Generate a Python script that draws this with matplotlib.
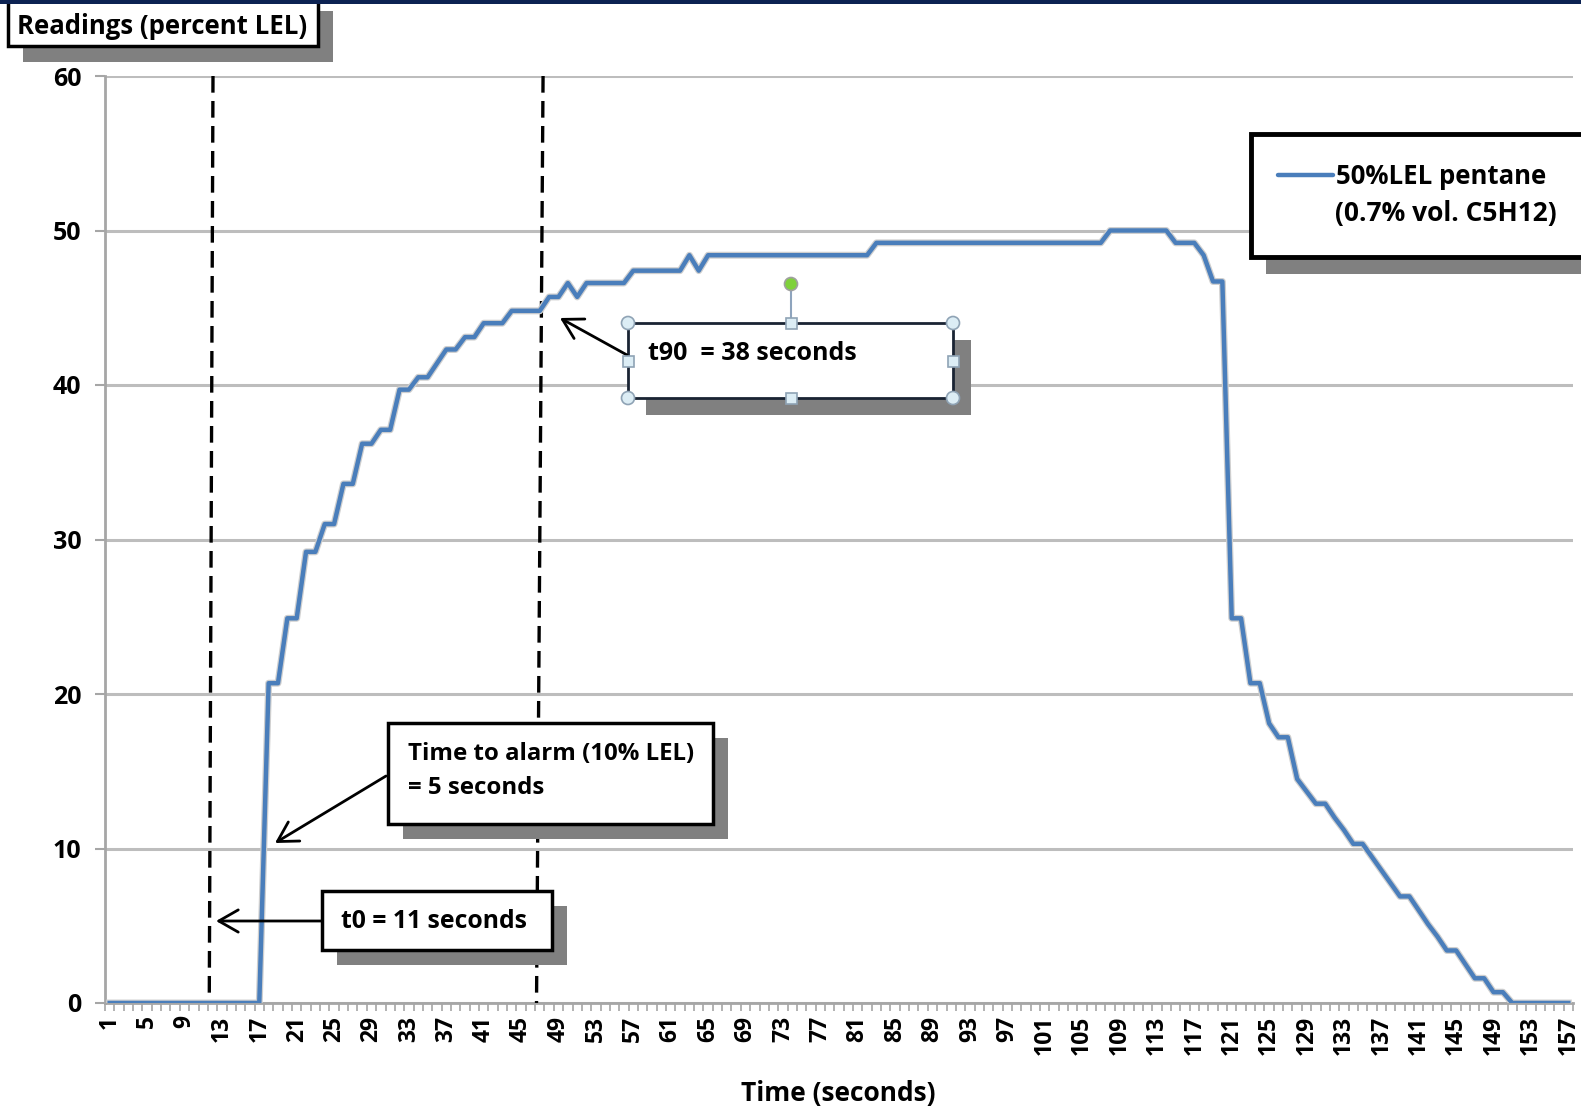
import matplotlib
matplotlib.use("Agg")
import matplotlib.pyplot as plt
import matplotlib.patheffects as pe
from matplotlib.patches import Rectangle, Circle, FancyArrowPatch

plt.rcParams['font.family'] = ['Open Sans', 'DejaVu Sans']
plt.rcParams['font.weight'] = 'bold'

# ---------------- data ----------------
seconds = list(range(1, 158))  # category axis 1..157
readings = [
    0, 0, 0, 0, 0, 0, 0, 0, 0, 0, 0, 0, 0, 0, 0, 0, 0,
    20.7, 20.7, 24.9, 24.9, 29.2, 29.2, 31.0, 31.0, 33.6, 33.6,
    36.2, 36.2, 37.1, 37.1, 39.7, 39.7, 40.5, 40.5, 41.4, 42.3,
    42.3, 43.1, 43.1, 44.0, 44.0, 44.0, 44.8, 44.8, 44.8, 44.8,
    45.7, 45.7, 46.6, 45.7, 46.6, 46.6, 46.6, 46.6, 46.6, 47.4,
    47.4, 47.4, 47.4, 47.4, 47.4, 48.4, 47.4, 48.4, 48.4, 48.4,
    48.4, 48.4, 48.4, 48.4, 48.4, 48.4, 48.4, 48.4, 48.4, 48.4,
    48.4, 48.4, 48.4, 48.4, 48.4, 49.2, 49.2, 49.2, 49.2, 49.2,
    49.2, 49.2, 49.2, 49.2, 49.2, 49.2, 49.2, 49.2, 49.2, 49.2,
    49.2, 49.2, 49.2, 49.2, 49.2, 49.2, 49.2, 49.2, 49.2, 49.2,
    50.0, 50.0, 50.0, 50.0, 50.0, 50.0, 50.0, 49.2, 49.2, 49.2,
    48.4, 46.7, 46.7, 24.9, 24.9, 20.7, 20.7, 18.1, 17.2, 17.2,
    14.5, 13.7, 12.9, 12.9, 12.0, 11.2, 10.3, 10.3, 9.45, 8.6,
    7.75, 6.9, 6.9, 6.0, 5.1, 4.3, 3.4, 3.4, 2.5, 1.6,
    1.6, 0.7, 0.7, 0, 0, 0, 0, 0, 0, 0,
]
series_label = ["50%LEL pentane", "(0.7% vol. C5H12)"]
y_ticks = [0, 10, 20, 30, 40, 50, 60]
x_tick_labels = [str(s) for s in seconds[::4]]
x_tick_pos = seconds[::4]

# marker lines (top, bottom) positions in category units
t0_line = (12.05, 11.65)
t90_line = (47.35, 46.65)

W, H = 1581, 1111
fig = plt.figure(figsize=(W / 100, H / 100), dpi=100)
fig.patch.set_facecolor('white')

left, right, top, bottom = 105, 1573, 76, 1003
ax = fig.add_axes([left / W, 1 - bottom / H, (right - left) / W, (bottom - top) / H])

BLUE = '#4a7ebb'
GRID = '#bdbdbd'

ax.plot(seconds, readings, color=BLUE, lw=3.2, solid_joinstyle='round', zorder=4,
        path_effects=[pe.Stroke(linewidth=5.0, foreground='#cfcfcf'), pe.Normal()])

ax.set_xlim(0.5, 157.5)
ax.set_ylim(0, 60)
ax.set_yticks(y_ticks)
ax.set_yticklabels([str(v) for v in y_ticks], fontsize=18, fontweight='bold')
ax.yaxis.grid(True, color=GRID, lw=2.2)
ax.set_axisbelow(True)
ax.tick_params(axis='y', direction='out', length=7, width=1.5, color='#a6a6a6', pad=10)

ax.set_xticks(x_tick_pos)
ax.set_xticklabels(x_tick_labels, rotation=90, fontsize=16.5, fontweight='bold')
ax.set_xticks([s - 0.5 for s in seconds] + [seconds[-1] + 0.5], minor=True)
ax.tick_params(axis='x', which='major', length=0, pad=9)
ax.tick_params(axis='x', which='minor', direction='out', length=6, width=1.2, color='#a6a6a6')

for s in ['top', 'right']:
    ax.spines[s].set_visible(False)
for s in ['left', 'bottom']:
    ax.spines[s].set_color('#a6a6a6')
    ax.spines[s].set_linewidth(2)

# dashed marker lines
for (xt, xb) in (t0_line, t90_line):
    ax.plot([xt, xb], [60, 0], color='black', lw=2.4, ls=(0, (5, 2.5)), zorder=3)

ax.set_xlabel("Time (seconds)", fontsize=19, fontweight='bold')
ax.xaxis.set_label_coords((838 - left) / (right - left), -(1094 - bottom) / (bottom - top))
ax.xaxis.label.set_va('center')

# ---------------- overlay (pixel coords) ----------------
ov = fig.add_axes([0, 0, 1, 1], zorder=10)
ov.set_xlim(0, W)
ov.set_ylim(H, 0)
ov.axis('off')
ov.patch.set_alpha(0)


def box(x0, y0, x1, y1, lw=2.5, shadow=(15, 16), ec='black'):
    sx, sy = shadow
    ov.add_patch(Rectangle((x0 + sx, y0 + sy), x1 - x0, y1 - y0, fc='#808080', ec='none', zorder=1))
    ov.add_patch(Rectangle((x0, y0), x1 - x0, y1 - y0, fc='white', ec=ec, lw=lw, zorder=2))


def arrow(x0, y0, x1, y1):
    ov.add_patch(FancyArrowPatch((x0, y0), (x1, y1), arrowstyle='->,head_length=0.7,head_width=0.4',
                                 mutation_scale=20, lw=2, color='black', zorder=3,
                                 shrinkA=0, shrinkB=0))


# top navy bar
ov.add_patch(Rectangle((0, 0), W, 4, fc='#0c2252', ec='none', zorder=20))

# y-axis title box
box(8, -5, 318, 46, lw=2.5, shadow=(15, 16))
ov.text(17, 26, "Readings (percent LEL)", fontsize=18.5, fontweight='bold', ha='left', va='center', zorder=5)

# legend box
box(1251, 134, 1600, 257, lw=3.5, shadow=(15, 17))
ov.plot([1278, 1333], [175, 175], color=BLUE, lw=3.2, zorder=5, solid_capstyle='round')
ov.text(1336, 177, series_label[0], fontsize=18.5, fontweight='bold', ha='left', va='center', zorder=5)
ov.text(1335, 214, series_label[1], fontsize=19, fontweight='bold', ha='left', va='center', zorder=5)

# t90 box (selected shape)
box(628, 323, 953, 398, lw=2, shadow=(18, 17), ec='#1a2433')
ov.text(648, 354, "t90  = 38 seconds", fontsize=18, fontweight='bold', ha='left', va='center', zorder=5)
arrow(627, 355, 560, 318)
ov.plot([791, 791], [290, 318], color='#8ea4bd', lw=1.5, zorder=6)
for (cx, cy) in [(628, 323), (953, 323), (628, 398), (953, 398)]:
    ov.add_patch(Circle((cx, cy), 6.5, fc='#dcedf5', ec='#8fa3b5', lw=1.2, zorder=7))
for (cx, cy) in [(791, 323), (791, 398), (628, 361), (953, 361)]:
    ov.add_patch(Rectangle((cx - 5.5, cy - 5.5), 11, 11, fc='#dcedf5', ec='#8fa3b5', lw=1.2, zorder=7))
ov.add_patch(Circle((791, 284), 6.5, fc='#7fd13b', ec='#a0a0a0', lw=1.2, zorder=7))

# alarm box
box(388, 723, 713, 824, lw=2.5, shadow=(15, 15))
ov.text(408, 754, "Time to alarm (10% LEL)", fontsize=17.3, fontweight='bold', ha='left', va='center', zorder=5)
ov.text(408, 788, "= 5 seconds", fontsize=17.3, fontweight='bold', ha='left', va='center', zorder=5)
arrow(386, 776, 275, 843)

# t0 box
box(322, 891, 552, 950, lw=2.5, shadow=(15, 15))
ov.text(341, 922, "t0 = 11 seconds", fontsize=17.8, fontweight='bold', ha='left', va='center', zorder=5)
arrow(322, 921, 216, 921)

fig.savefig("out.png", dpi=100, facecolor='white')
